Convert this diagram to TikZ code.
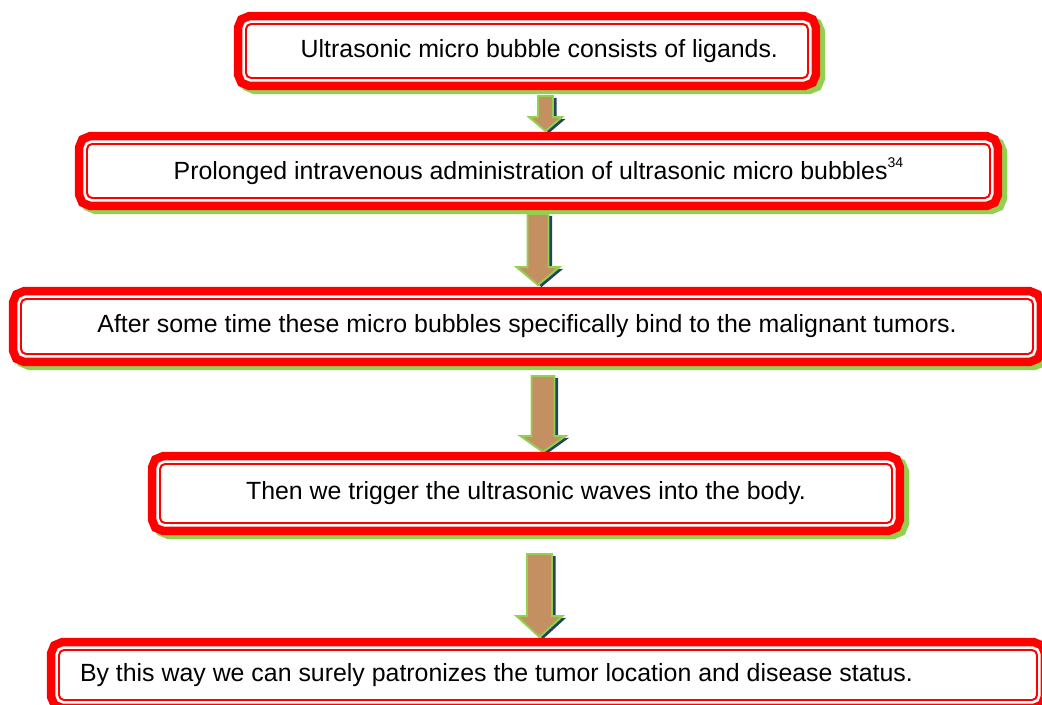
\documentclass[tikz,border=0pt]{standalone}
\usepackage{fontspec}
\setmainfont{Liberation Sans}
\usetikzlibrary{calc, backgrounds}
\definecolor{boxred}{RGB}{255, 0, 0}
\definecolor{boxgreen}{RGB}{146, 208, 80}
\definecolor{arrowbrown}{RGB}{196, 144, 98}
\definecolor{arrowshade}{RGB}{35, 70, 90}
\newcommand{\pxu}{0.025cm}
\tikzset{
    stepbox/.style={rectangle, rounded corners=3.6pt, draw=boxred, line width=1.4pt, fill=white, inner sep=0pt, align=center, font=\fontsize{17.7}{21}\selectfont,
        preaction={draw=boxgreen, fill=boxgreen, line width=17.4pt, transform canvas={shift={(3.5pt,-2.8pt)}}},
        preaction={draw=boxred, line width=17.4pt},
        preaction={draw=white, line width=5.3pt}},
    flowarrow/.style={draw=boxgreen, line width=1.4pt, fill=arrowbrown, line join=miter,
        preaction={fill=arrowshade, transform canvas={shift={(2.5pt,-1.4pt)}}}},
}

\begin{document}
\begin{tikzpicture}[x=\pxu, y=-\pxu]
    \useasboundingbox (0,0) rectangle (1042,705);
    \node[stepbox, minimum width=562*\pxu, minimum height=54*\pxu, text width=502*\pxu, align=flush right] (ligands) at (527,51) {Ultrasonic micro bubble consists of ligands.};
    \node[stepbox, minimum width=903*\pxu, minimum height=54*\pxu] (inject) at (538.5,171) {Prolonged intravenous administration of ultrasonic micro bubbles\raisebox{8.5pt}{\fontsize{10}{10}\selectfont 34}};
    \node[stepbox, minimum width=1012*\pxu, minimum height=55*\pxu] (bind) at (527,326.5) {After some time these micro bubbles specifically bind to the malignant tumors.};
    \node[stepbox, minimum width=732*\pxu, minimum height=59*\pxu] (trigger) at (526,493.5) {Then we trigger the ultrasonic waves into the body.};
    \node[stepbox, minimum width=978*\pxu, minimum height=50*\pxu, text width=936*\pxu, align=flush left] (locate) at (548,675) {By this way we can surely patronizes the tumor location and disease status.};

    \begin{scope}[on background layer]
        % arrow 1
        \coordinate (x1) at (545.5,0);
        \coordinate (a1t) at ($(x1 |- ligands.south)+(0,17)$);
        \coordinate (a1b) at ($(x1 |- inject.north)+(0,-12)$);
        \draw[flowarrow] ($(a1t)+(-7.5,0)$) -- ($(a1t)+(7.5,0)$) -- ($(a1b)+(7.5,-14)$) -- ($(a1b)+(16.5,-14)$) -- (a1b) -- ($(a1b)+(-16.5,-14)$) -- ($(a1b)+(-7.5,-14)$) -- cycle;
        % arrow 2
        \coordinate (x2) at (538,0);
        \coordinate (a2t) at ($(x2 |- inject.south)+(0,15)$);
        \coordinate (a2b) at ($(x2 |- bind.north)+(0,-13)$);
        \draw[flowarrow] ($(a2t)+(-10.5,0)$) -- ($(a2t)+(10.5,0)$) -- ($(a2b)+(10.5,-18)$) -- ($(a2b)+(21.5,-18)$) -- (a2b) -- ($(a2b)+(-21.5,-18)$) -- ($(a2b)+(-10.5,-18)$) -- cycle;
        % arrow 3
        \coordinate (x3) at (543,0);
        \coordinate (a3t) at ($(x3 |- bind.south)+(0,21)$);
        \coordinate (a3b) at ($(x3 |- trigger.north)+(0,-11)$);
        \draw[flowarrow] ($(a3t)+(-11.5,0)$) -- ($(a3t)+(11.5,0)$) -- ($(a3b)+(11.5,-16)$) -- ($(a3b)+(22.5,-16)$) -- (a3b) -- ($(a3b)+(-22.5,-16)$) -- ($(a3b)+(-11.5,-16)$) -- cycle;
        % arrow 4
        \coordinate (x4) at (539.5,0);
        \coordinate (a4t) at ($(x4 |- trigger.south)+(0,30)$);
        \coordinate (a4b) at ($(x4 |- locate.north)+(0,-12)$);
        \draw[flowarrow] ($(a4t)+(-12.5,0)$) -- ($(a4t)+(12.5,0)$) -- ($(a4b)+(12.5,-21)$) -- ($(a4b)+(23,-21)$) -- (a4b) -- ($(a4b)+(-23,-21)$) -- ($(a4b)+(-12.5,-21)$) -- cycle;
    \end{scope}
\end{tikzpicture}
\end{document}
